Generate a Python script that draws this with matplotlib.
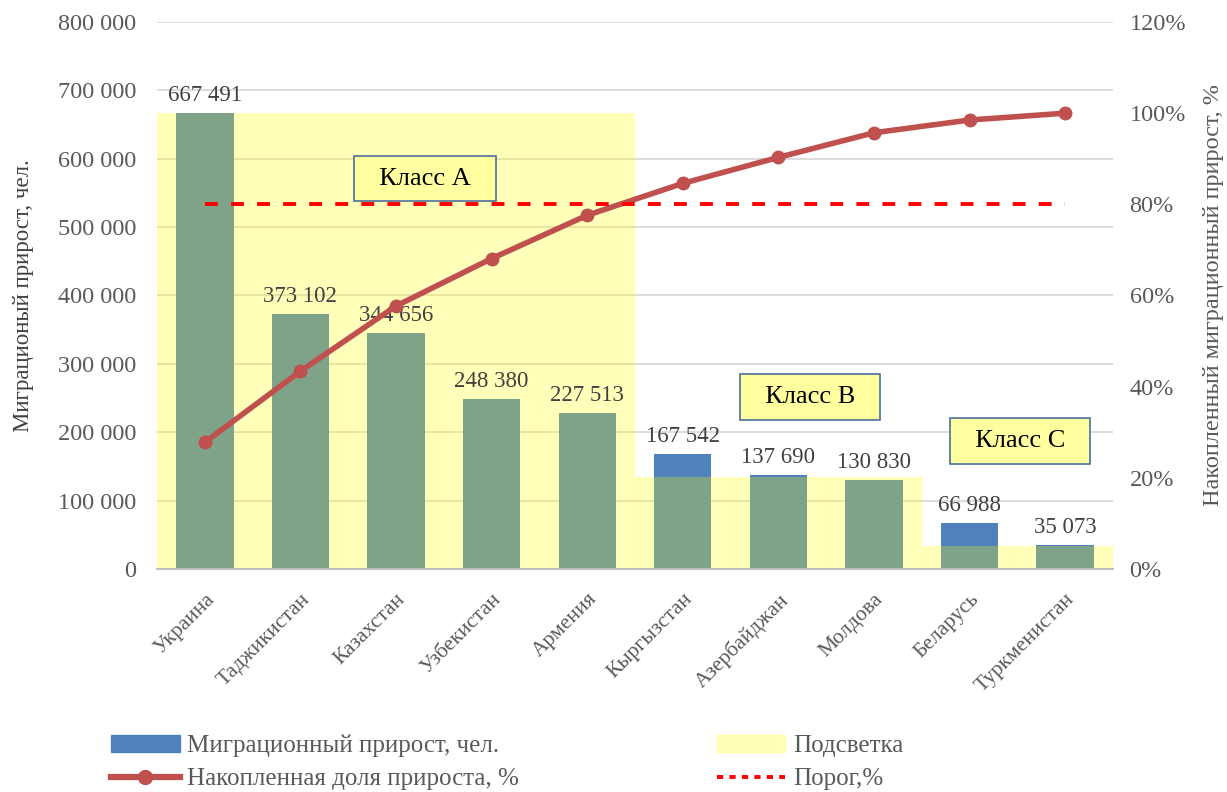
import matplotlib
matplotlib.use("Agg")
import matplotlib.pyplot as plt
import numpy as np
from matplotlib.patches import Patch
from matplotlib.lines import Line2D
from matplotlib.ticker import FuncFormatter, PercentFormatter

plt.rcParams['font.family'] = ['Liberation Serif', 'DejaVu Serif']

# data
countries = ['Украина', 'Таджикистан', 'Казахстан', 'Узбекистан', 'Армения',
             'Кыргызстан', 'Азербайджан', 'Молдова', 'Беларусь', 'Туркменистан']
migration = [667491, 373102, 344656, 248380, 227513, 167542, 137690, 130830, 66988, 35073]
cum_share = [0.278, 0.434, 0.577, 0.681, 0.776, 0.846, 0.903, 0.957, 0.985, 1.000]
highlight = [667491, 667491, 667491, 667491, 667491, 134000, 134000, 134000, 33000, 33000]
threshold = [0.8] * 10
class_labels = ['Класс А', 'Класс В', 'Класс С']
class_pos = [(2.3, 571000), (6.33, 251000), (8.53, 187000)]

blue = '#4f81bd'
red_line = '#c0504d'
tick_col = '#595959'
grid_col = '#d9d9d9'

fig = plt.figure(figsize=(12.27, 7.92), dpi=100)
ax = fig.add_axes([0.128, 0.2816, 0.779, 0.6906])
ax2 = ax.twinx()

x = np.arange(len(countries))
ax.bar(x, migration, width=0.6, color=blue, zorder=2)
ax.bar(x, highlight, width=1.0, color=(1, 1, 0, 0.27), zorder=3)

for xi, v in zip(x, migration):
    ax.annotate(f"{v:,}".replace(',', ' '), (xi, v), xytext=(0, 5),
                textcoords='offset points', ha='center', va='bottom',
                fontsize=16.5, color='#404040', zorder=5)

ax.set_xlim(-0.5, len(countries) - 0.5)
ax.set_ylim(0, 800000)
ax.set_yticks(np.arange(0, 800001, 100000))
ax.yaxis.set_major_formatter(FuncFormatter(lambda v, p: f"{int(v):,}".replace(',', ' ')))
ax.grid(axis='y', color=grid_col, linewidth=1.3, zorder=0)
ax.set_axisbelow(True)
ax.set_xticks(x)
ax.set_xticklabels(countries, rotation=45, ha='right', rotation_mode='anchor')
ax.tick_params(axis='both', length=0, labelcolor=tick_col)
ax.tick_params(axis='x', pad=15, labelsize=15.5)
ax.tick_params(axis='y', pad=15, labelsize=17.5)
ax.set_ylabel('Миграционый прирост, чел.', fontsize=16.5, color='#404040', labelpad=17)

ax2.plot(x, cum_share, color=red_line, linewidth=4, marker='o', markersize=9, zorder=4)
ax2.plot(x, threshold, color='#ff0000', linewidth=2.8, dashes=(3.3, 3.4), zorder=4)
ax2.set_ylim(0, 1.2)
ax2.set_yticks(np.arange(0, 1.21, 0.2))
ax2.yaxis.set_major_formatter(PercentFormatter(1.0, decimals=0))
ax2.tick_params(axis='y', length=0, labelsize=17.5, labelcolor=tick_col, pad=12)
ax2.set_ylabel('Накопленный миграционный прирост, %', fontsize=17.5, color='#595959', labelpad=12)

for lab, (cx, cy) in zip(class_labels, class_pos):
    ax2.text(cx, cy / 800000 * 1.2, '  ' + lab + '  ', ha='center', va='center',
             fontsize=19, color='black', zorder=6,
             bbox=dict(boxstyle='square,pad=0.45', facecolor='#ffffa0', edgecolor='#4a6f9c', linewidth=1.2))

for a in (ax, ax2):
    for s in ('top', 'left', 'right'):
        a.spines[s].set_visible(False)
    a.spines['bottom'].set_color('#bfbfbf')
    a.spines['bottom'].set_linewidth(1.3)

handles = [Patch(color=blue),
           Line2D([], [], color=red_line, linewidth=4.5, marker='o', markersize=10),
           Patch(color=(1, 1, 0, 0.27)),
           Line2D([], [], color='#ff0000', linewidth=2.8, dashes=(1.6, 1.6))]
labels = ['Миграционный прирост, чел.', 'Накопленная доля прироста, %',
          'Подсветка', 'Порог,%']
fig.legend(handles, labels, ncol=2, loc='lower left', bbox_to_anchor=(111 / 1227, 0.002),
           frameon=False, fontsize=18, handlelength=2.75, handletextpad=0.3, borderpad=0,
           borderaxespad=0, columnspacing=7.9, labelspacing=0.42, labelcolor='#595959')

fig.savefig('out.png', dpi=100)
